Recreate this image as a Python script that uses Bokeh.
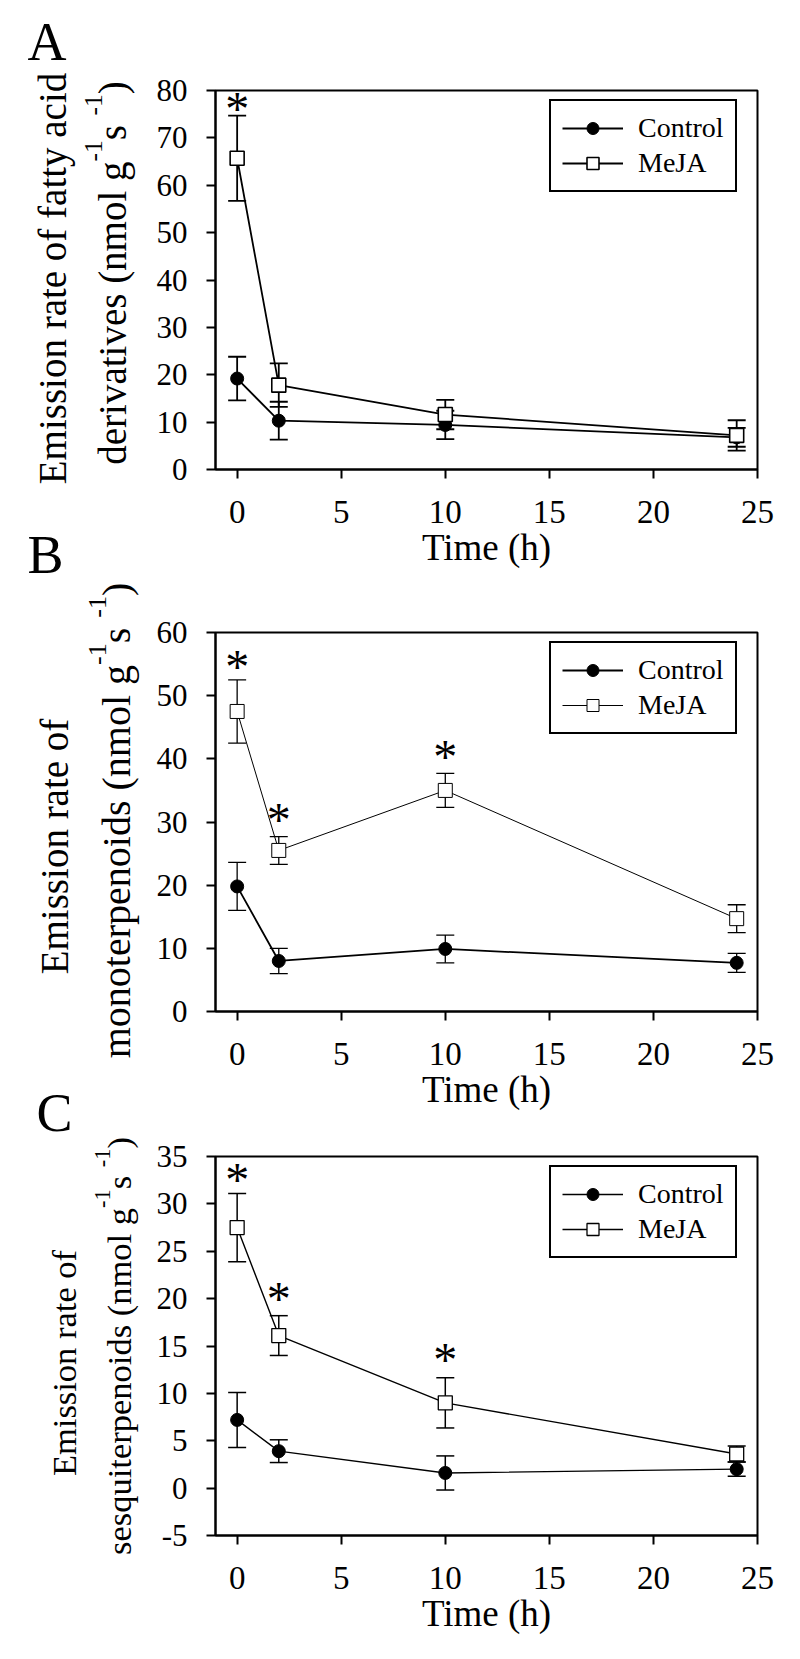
import numpy as np
from bokeh.plotting import figure
from bokeh.models import (Range1d, FixedTicker, Whisker, TeeHead, ColumnDataSource,
                          Legend, LegendItem, Label)
from bokeh.layouts import column, row
from bokeh.embed import file_html
from bokeh.resources import INLINE
from bokeh.core.properties import value

FONT = "Liberation Serif"

# ---------------- data ----------------
time_h = [0, 2, 10, 24]
x_ticks = [0, 5, 10, 15, 20, 25]
legend_labels = ["Control", "MeJA"]
x_title = "Time (h)"

# A: fatty acid derivatives
fa_control_mean = [19.2, 10.3, 9.4, 6.8]
fa_control_se = [4.6, 4.0, 3.0, 2.0]
fa_meja_mean = [65.7, 17.8, 11.6, 7.2]
fa_meja_se = [9.0, 4.6, 3.1, 3.2]
fa_signif = [0]
fa_y_ticks = [0, 10, 20, 30, 40, 50, 60, 70, 80]

# B: monoterpenoids
mt_control_mean = [19.8, 8.0, 9.9, 7.7]
mt_control_se = [3.8, 2.0, 2.2, 1.5]
mt_meja_mean = [47.5, 25.5, 35.0, 14.7]
mt_meja_se = [5.0, 2.2, 2.7, 2.2]
mt_signif = [0, 2, 10]
mt_y_ticks = [0, 10, 20, 30, 40, 50, 60]

# C: sesquiterpenoids
st_control_mean = [7.2, 3.9, 1.6, 2.0]
st_control_se = [2.9, 1.2, 1.8, 0.75]
st_meja_mean = [27.5, 16.1, 9.0, 3.6]
st_meja_se = [3.6, 2.1, 2.65, 0.85]
st_signif = [0, 2, 10]
st_y_ticks = [-5, 0, 5, 10, 15, 20, 25, 30, 35]

# ---------------- layout constants ----------------
PAGE_W, PAGE_H = 800, 1659
STRIP_W = 150             # left strip holding the rotated titles and panel letters
FRAME_W, FRAME_H = 542, 379
X_START, X_END = -1.04, 25
BASE_SHIFT = 0.41         # empirical: rendered baseline sits this many em below the anchor

# Times New Roman / Liberation Serif advance widths (em)
CW = {' ': 0.25, '(': 0.333, ')': 0.333, '-': 0.333, '1': 0.5, 'a': 0.444, 'c': 0.444,
      'd': 0.5, 'e': 0.444, 'f': 0.333, 'g': 0.5, 'i': 0.278, 'l': 0.278, 'm': 0.778,
      'n': 0.5, 'o': 0.5, 'p': 0.5, 'q': 0.5, 'r': 0.333, 's': 0.389, 't': 0.278,
      'u': 0.5, 'v': 0.5, 'y': 0.5, 'E': 0.611}


def text_w(s, size):
    return sum(CW.get(c, 0.5) for c in s) * size


panels = [
    dict(cm=fa_control_mean, cs=fa_control_se, mm=fa_meja_mean, ms=fa_meja_se,
         sig=fa_signif, yticks=fa_y_ticks, yr=(0, 80), height=590,
         border_top=90, lw_c=1.8, lw_m=1.8, lw_e=1.8, mk_lw=1.6, star_gap=[12],
         line1="Emission rate of fatty acid", line2="derivatives",
         t1=(68, 278, 39), t2=(128, 272.5, 39)),
    dict(cm=mt_control_mean, cs=mt_control_se, mm=mt_meja_mean, ms=mt_meja_se,
         sig=mt_signif, yticks=mt_y_ticks, yr=(0, 60), height=535,
         border_top=42, lw_c=1.8, lw_m=1.0, lw_e=1.3, mk_lw=1.0, star_gap=[18.5, 21.7, 21.4],
         line1="Emission rate of", line2="monoterpenoids",
         t1=(70, 846, 39), t2=(132, 820, 40)),
    dict(cm=st_control_mean, cs=st_control_se, mm=st_meja_mean, ms=st_meja_se,
         sig=st_signif, yticks=st_y_ticks, yr=(-5, 35), height=534,
         border_top=31, lw_c=1.4, lw_m=1.4, lw_e=1.5, mk_lw=1.3, star_gap=[18.9, 22.4, 23],
         line1="Emission rate of", line2="sesquiterpenoids",
         t1=(78, 1362.5, 34.5), t2=(133, 1345.5, 34.5)),
]
panel_letters = [("A", 27, 64), ("B", 27, 577), ("C", 36, 1135)]
LETTER_FS = 54

# ---------------- left strip (page pixel coordinates) ----------------
strip = figure(frame_width=STRIP_W, frame_height=PAGE_H,
               x_range=Range1d(0, STRIP_W), y_range=Range1d(PAGE_H, 0),
               x_axis_location=None, y_axis_location=None,
               min_border=0, output_backend="svg", toolbar_location=None,
               background_fill_color="white", border_fill_color="white")
strip.grid.visible = False
strip.outline_line_color = None


def vlabel(x_base, y, text, fs, align):
    """rotated (bottom-to-top) text whose baseline lies on page column x_base"""
    strip.add_layout(Label(x=x_base - BASE_SHIFT * fs, y=y, text=text, angle=np.pi / 2,
                           text_font=FONT, text_font_size=f"{fs:.1f}px",
                           text_align=align, text_baseline="alphabetic",
                           text_color="black"))


for P in panels:
    bx, cy, fs = P["t1"]
    vlabel(bx, cy, P["line1"], fs, "center")
    bx, cy, fs = P["t2"]
    sup_fs = 0.65 * fs
    raise_px = 0.62 * fs
    segs = [(P["line2"] + " (nmol g", False), ("-1", True), (" s", False),
            ("-1", True), (")", False)]
    widths = [text_w(s, sup_fs if sup else fs) for s, sup in segs]
    start = cy + sum(widths) / 2
    cum = 0.0
    for (s, sup), wdt in zip(segs, widths):
        vlabel(bx - (raise_px if sup else 0), start - cum, s,
               sup_fs if sup else fs, "left")
        cum += wdt

for L, lx, ly in panel_letters:
    strip.add_layout(Label(x=lx, y=ly - BASE_SHIFT * LETTER_FS, text=L, text_font=FONT,
                           text_font_size=f"{LETTER_FS}px",
                           text_align="left", text_baseline="alphabetic",
                           text_color="black"))

# ---------------- main panels ----------------
figs = []
for P in panels:
    y0, y1 = P["yr"]
    p = figure(frame_width=FRAME_W, frame_height=FRAME_H,
               min_border_left=65, min_border_right=PAGE_W - STRIP_W - 65 - FRAME_W,
               min_border_top=P["border_top"],
               min_border_bottom=P["height"] - P["border_top"] - FRAME_H,
               x_range=Range1d(X_START, X_END), y_range=Range1d(y0, y1),
               output_backend="svg", toolbar_location=None,
               background_fill_color="white", border_fill_color="white")
    p.grid.visible = False
    p.outline_line_color = "black"
    p.outline_line_width = 2
    p.outline_line_alpha = 1.0
    for ax in (p.xaxis[0], p.yaxis[0]):
        ax.axis_line_width = 2
        ax.axis_line_color = "black"
        ax.major_tick_line_width = 2
        ax.major_tick_line_color = "black"
        ax.major_tick_out = 9
        ax.major_tick_in = 0
        ax.minor_tick_out = 0
        ax.minor_tick_in = 0
        ax.major_label_text_font = FONT
        ax.major_label_text_color = "black"
    p.xaxis.major_label_standoff = 22
    p.yaxis.major_label_standoff = 19
    p.xaxis.ticker = FixedTicker(ticks=x_ticks)
    p.yaxis.ticker = FixedTicker(ticks=P["yticks"])
    p.xaxis.major_label_overrides = {t: str(t) for t in x_ticks}
    p.yaxis.major_label_overrides = {t: str(t) for t in P["yticks"]}
    p.xaxis.major_label_text_font_size = "33px"
    p.yaxis.major_label_text_font_size = "31px"
    p.xaxis.axis_label = x_title
    p.xaxis.axis_label_text_font = FONT
    p.xaxis.axis_label_text_font_size = "37px"
    p.xaxis.axis_label_text_font_style = "normal"
    p.xaxis.axis_label_text_color = "black"
    p.xaxis.axis_label_standoff = 1

    # error bars
    for mean, se in ((P["cm"], P["cs"]), (P["mm"], P["ms"])):
        src = ColumnDataSource(dict(x=time_h,
                                    upper=[m + s for m, s in zip(mean, se)],
                                    lower=[m - s for m, s in zip(mean, se)]))
        lw = P["lw_e"]
        p.add_layout(Whisker(source=src, base="x", upper="upper", lower="lower",
                             line_color="black", line_width=lw,
                             upper_head=TeeHead(size=18, line_color="black", line_width=lw),
                             lower_head=TeeHead(size=18, line_color="black", line_width=lw)))

    lc = p.line(time_h, P["cm"], line_color="black", line_width=P["lw_c"])
    lm = p.line(time_h, P["mm"], line_color="black", line_width=P["lw_m"])
    sc = p.scatter(time_h, P["cm"], marker="circle", size=13,
                   fill_color="black", line_color="black", line_width=1)
    sm = p.scatter(time_h, P["mm"], marker="square", size=14,
                   fill_color="white", line_color="black", line_width=P["mk_lw"])

    # significance asterisks above the MeJA error bars
    idx = [time_h.index(t) for t in P["sig"]]
    star_src = ColumnDataSource(dict(
        x=[time_h[i] for i in idx],
        y=[P["mm"][i] + P["ms"][i] for i in idx],
        t=["*"] * len(idx),
        off=[-(g - 5) for g in P["star_gap"]]))
    p.text(x="x", y="y", text="t", source=star_src, text_font=value(FONT),
           text_font_size="48px", text_align="center", text_baseline="alphabetic",
           text_color="black", y_offset="off")

    legend = Legend(items=[LegendItem(label=legend_labels[0], renderers=[lc, sc]),
                           LegendItem(label=legend_labels[1], renderers=[lm, sm])],
                    location=(334, 277), orientation="vertical",
                    border_line_color="black", border_line_width=2, border_line_alpha=1.0,
                    background_fill_color="white", background_fill_alpha=1.0,
                    label_text_font=FONT, label_text_font_size="28px",
                    label_text_color="black",
                    glyph_width=61, glyph_height=30, label_height=30,
                    label_standoff=15, padding=11, spacing=3, margin=0)
    p.add_layout(legend)
    figs.append(p)

layout = row(strip, column(*figs, spacing=0), spacing=0)
open("out.html", "w").write(file_html(layout, INLINE))
